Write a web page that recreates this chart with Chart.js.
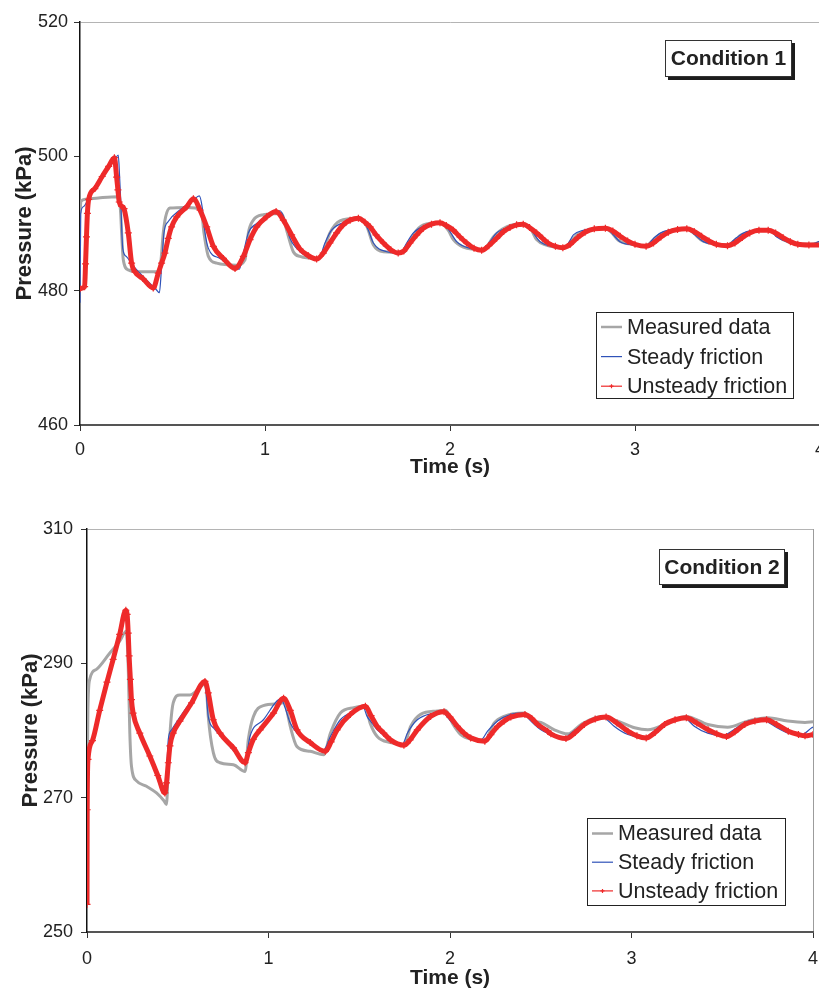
<!DOCTYPE html>
<html>
<head>
<meta charset="utf-8">
<title>Pressure transients</title>
<script src="https://cdn.jsdelivr.net/npm/chart.js@4.4.0/dist/chart.umd.min.js"></script>
<style>
  html, body { margin: 0; padding: 0; background: #fff; overflow: hidden; }
  .panel { position: absolute; left: 0; width: 840px; height: 496px; }
  #panel1 { top: 0; }
  #panel2 { top: 496px; }
</style>
</head>
<body>
<div class="panel" id="panel1"><canvas id="chart1" width="840" height="496"></canvas></div>
<div class="panel" id="panel2"><canvas id="chart2" width="840" height="496"></canvas></div>
<script>
const seriesNames = ["Measured data", "Steady friction", "Unsteady friction"];
const conditionNames = ["Condition 1", "Condition 2"];
const timeTicks = [0, 1, 2, 3, 4];
const c1PressureTicks = [460, 480, 500, 520];
const c2PressureTicks = [250, 270, 290, 310];

// condition 1
const c1MeasuredT = [0, 0.005, 0.03, 0.1, 0.205, 0.215, 0.22, 0.225, 0.234, 0.261, 0.324, 0.414, 0.436, 0.45, 0.463, 0.486, 0.577, 0.655, 0.67, 0.694, 0.739, 0.847, 0.892, 0.91, 0.937, 0.991, 1.09, 1.117, 1.153, 1.189, 1.279, 1.31, 1.351, 1.405, 1.5, 1.55, 1.586, 1.64, 1.748, 1.775, 1.802, 1.856, 1.946, 1.99, 2.018, 2.072, 2.18, 2.205, 2.234, 2.306, 2.396, 2.44, 2.468, 2.52, 2.62, 2.65, 2.69, 2.76, 2.84, 2.875, 2.91, 2.98, 3.06, 3.09, 3.13, 3.2, 3.28, 3.315, 3.355, 3.42, 3.5, 3.535, 3.575, 3.64, 3.72, 3.755, 3.8, 3.87, 3.95, 4.0];
const c1MeasuredP = [491.5, 493.3, 493.6, 493.8, 494.0, 493.0, 491.5, 488.6, 484.6, 483.1, 482.8, 482.8, 484.1, 488.6, 491.0, 492.3, 492.4, 492.1, 488.6, 485.1, 484.1, 483.8, 484.6, 488.6, 490.5, 491.3, 491.5, 489.0, 485.8, 485.1, 484.8, 485.5, 488.6, 490.4, 490.8, 489.6, 486.8, 485.8, 485.7, 486.6, 488.3, 489.8, 490.1, 489.0, 487.6, 486.5, 486.1, 486.8, 488.0, 489.5, 490.0, 489.0, 487.6, 486.8, 486.4, 487.2, 488.4, 489.1, 489.3, 488.6, 487.5, 486.9, 486.7, 487.3, 488.3, 489.0, 489.2, 488.6, 487.6, 487.0, 486.8, 487.4, 488.3, 488.9, 489.1, 488.6, 487.6, 487.0, 486.9, 487.2];

const c1SteadyT = [0, 0.004, 0.018, 0.06, 0.1, 0.15, 0.19, 0.207, 0.214, 0.22, 0.231, 0.25, 0.29, 0.324, 0.37, 0.414, 0.429, 0.441, 0.454, 0.477, 0.54, 0.613, 0.645, 0.66, 0.676, 0.694, 0.757, 0.829, 0.861, 0.883, 0.91, 0.955, 1.009, 1.081, 1.108, 1.135, 1.165, 1.225, 1.288, 1.324, 1.36, 1.441, 1.523, 1.541, 1.559, 1.586, 1.658, 1.73, 1.766, 1.802, 1.874, 1.955, 1.978, 2.0, 2.036, 2.108, 2.18, 2.216, 2.252, 2.324, 2.405, 2.43, 2.45, 2.486, 2.55, 2.62, 2.645, 2.667, 2.72, 2.84, 2.86, 2.883, 2.919, 2.99, 3.06, 3.085, 3.108, 3.153, 3.28, 3.3, 3.324, 3.369, 3.441, 3.5, 3.525, 3.55, 3.604, 3.72, 3.74, 3.766, 3.82, 3.91, 3.95, 3.975, 4.0];
const c1SteadyP = [478.2, 491.5, 492.5, 494.6, 496.3, 498.2, 499.6, 500.2, 497.0, 493.5, 486.3, 485.1, 483.6, 482.6, 481.3, 480.1, 479.7, 483.6, 488.6, 490.3, 492.0, 493.5, 494.1, 492.5, 488.6, 486.3, 484.8, 483.6, 483.2, 485.6, 488.6, 490.0, 491.0, 491.9, 490.5, 487.8, 486.5, 485.1, 484.6, 487.1, 489.0, 490.3, 490.8, 490.0, 489.0, 487.1, 485.8, 485.6, 487.1, 488.6, 489.8, 490.3, 489.6, 488.8, 487.3, 486.3, 486.1, 487.3, 488.6, 489.5, 490.0, 489.3, 488.6, 487.3, 486.6, 486.3, 487.3, 488.3, 489.0, 489.4, 489.0, 488.3, 487.3, 486.8, 486.6, 487.3, 488.0, 488.8, 489.2, 488.9, 488.3, 487.3, 486.9, 486.7, 487.3, 487.9, 488.8, 489.1, 488.7, 488.0, 487.3, 486.9, 486.8, 487.1, 487.4];

const c1UnsteadyT = [0, 0.025, 0.03, 0.035, 0.04, 0.047, 0.08, 0.12, 0.155, 0.186, 0.198, 0.205, 0.212, 0.225, 0.238, 0.261, 0.279, 0.297, 0.34, 0.396, 0.423, 0.441, 0.459, 0.477, 0.495, 0.523, 0.577, 0.613, 0.649, 0.685, 0.721, 0.775, 0.838, 0.883, 0.919, 0.955, 1.009, 1.06, 1.099, 1.144, 1.189, 1.235, 1.279, 1.315, 1.351, 1.387, 1.423, 1.46, 1.505, 1.54, 1.568, 1.6, 1.64, 1.68, 1.72, 1.75, 1.784, 1.82, 1.856, 1.9, 1.946, 1.98, 2.018, 2.054, 2.09, 2.13, 2.171, 2.21, 2.252, 2.29, 2.324, 2.36, 2.396, 2.43, 2.468, 2.5, 2.53, 2.57, 2.61, 2.65, 2.69, 2.73, 2.78, 2.84, 2.88, 2.92, 2.96, 3.0, 3.06, 3.1, 3.14, 3.18, 3.23, 3.28, 3.32, 3.36, 3.4, 3.44, 3.5, 3.54, 3.58, 3.62, 3.67, 3.72, 3.76, 3.8, 3.84, 3.88, 3.94, 4.0];
const c1UnsteadyP = [480.3, 480.6, 484.0, 488.0, 491.5, 493.6, 495.2, 497.0, 498.5, 499.8, 496.9, 495.0, 493.2, 492.6, 492.2, 488.6, 484.1, 482.8, 481.8, 480.4, 482.6, 484.1, 485.6, 487.8, 489.5, 491.0, 492.5, 493.7, 492.0, 489.5, 486.6, 484.8, 483.3, 485.1, 487.6, 489.5, 491.0, 491.8, 490.5, 488.3, 486.2, 485.2, 484.7, 485.6, 487.1, 488.6, 489.8, 490.5, 490.8, 490.2, 489.5, 488.3, 487.1, 486.1, 485.6, 485.9, 487.1, 488.3, 489.3, 489.9, 490.1, 489.7, 489.0, 488.0, 487.1, 486.3, 486.0, 486.7, 487.8, 488.8, 489.4, 489.8, 489.9, 489.4, 488.6, 487.8, 487.1, 486.6, 486.4, 486.9, 487.9, 488.7, 489.2, 489.3, 488.9, 488.1, 487.4, 486.9, 486.6, 487.1, 488.0, 488.7, 489.1, 489.2, 488.8, 488.1, 487.4, 486.9, 486.7, 487.1, 487.9, 488.6, 489.0, 489.0, 488.6, 487.9, 487.3, 486.9, 486.8, 486.8];

// condition 2
const c2MeasuredT = [0, 0.005, 0.015, 0.052, 0.125, 0.18, 0.217, 0.222, 0.227, 0.236, 0.245, 0.273, 0.328, 0.383, 0.425, 0.438, 0.448, 0.46, 0.475, 0.512, 0.567, 0.63, 0.65, 0.66, 0.668, 0.696, 0.733, 0.807, 0.871, 0.889, 0.917, 0.972, 1.064, 1.09, 1.105, 1.12, 1.157, 1.23, 1.304, 1.341, 1.396, 1.47, 1.534, 1.56, 1.599, 1.672, 1.746, 1.783, 1.838, 1.93, 1.976, 2.013, 2.059, 2.133, 2.188, 2.243, 2.298, 2.409, 2.464, 2.501, 2.575, 2.649, 2.722, 2.833, 2.925, 3.017, 3.09, 3.201, 3.3, 3.42, 3.53, 3.64, 3.75, 3.86, 3.956, 4.0];
const c2MeasuredP = [269.0, 283.0, 287.6, 289.1, 291.5, 293.3, 294.8, 293.0, 289.6, 279.6, 274.7, 272.5, 271.7, 270.7, 269.5, 269.0, 274.7, 280.6, 284.1, 285.3, 285.3, 286.6, 287.0, 285.5, 282.1, 276.7, 275.2, 274.9, 273.9, 278.7, 282.1, 283.7, 284.0, 284.2, 282.5, 280.6, 277.6, 276.9, 276.4, 279.6, 282.6, 283.4, 283.6, 281.1, 279.1, 278.2, 277.9, 280.6, 282.4, 282.9, 283.0, 281.1, 279.4, 278.6, 278.4, 281.1, 282.1, 282.6, 281.4, 281.2, 280.1, 279.5, 280.9, 282.1, 281.4, 280.4, 280.1, 281.1, 282.1, 280.9, 280.5, 281.4, 281.9, 281.4, 281.2, 281.3];

const c2SteadyT = [0, 0.003, 0.03, 0.07, 0.144, 0.214, 0.218, 0.227, 0.235, 0.245, 0.254, 0.291, 0.346, 0.429, 0.438, 0.448, 0.466, 0.512, 0.576, 0.645, 0.655, 0.668, 0.7, 0.733, 0.807, 0.871, 0.885, 0.898, 0.972, 1.07, 1.09, 1.12, 1.157, 1.23, 1.304, 1.341, 1.396, 1.488, 1.52, 1.543, 1.562, 1.599, 1.672, 1.737, 1.765, 1.82, 1.912, 1.96, 1.985, 2.004, 2.059, 2.133, 2.17, 2.207, 2.262, 2.335, 2.4, 2.425, 2.446, 2.501, 2.538, 2.63, 2.667, 2.759, 2.842, 2.87, 2.906, 2.98, 3.072, 3.109, 3.201, 3.293, 3.32, 3.348, 3.42, 3.505, 3.551, 3.643, 3.726, 3.755, 3.79, 3.864, 3.938, 3.993, 4.0];
const c2SteadyP = [254.0, 275.5, 278.5, 283.0, 290.6, 297.8, 296.0, 291.0, 285.5, 283.5, 282.5, 279.6, 276.2, 270.9, 273.5, 278.7, 280.1, 282.0, 284.5, 287.2, 286.0, 282.1, 280.3, 279.3, 277.0, 275.3, 277.2, 279.1, 281.6, 284.7, 283.5, 281.1, 279.6, 278.2, 277.1, 279.1, 281.6, 283.1, 283.6, 282.1, 281.4, 280.1, 278.6, 277.9, 279.6, 281.6, 282.6, 282.8, 282.0, 281.4, 280.1, 278.9, 278.6, 279.9, 281.4, 282.4, 282.6, 282.0, 281.4, 280.1, 279.6, 278.9, 279.6, 281.4, 282.1, 281.5, 280.6, 279.4, 278.9, 279.6, 281.4, 281.9, 281.3, 280.6, 279.6, 279.2, 279.9, 281.4, 281.7, 281.2, 280.6, 279.6, 279.4, 280.4, 280.5];

const c2UnsteadyT = [0, 0.001, 0.0055, 0.03, 0.07, 0.11, 0.144, 0.18, 0.214, 0.221, 0.227, 0.232, 0.239, 0.245, 0.254, 0.291, 0.346, 0.39, 0.429, 0.438, 0.448, 0.457, 0.475, 0.512, 0.576, 0.65, 0.668, 0.696, 0.733, 0.807, 0.871, 0.889, 0.917, 0.954, 1.028, 1.083, 1.12, 1.157, 1.23, 1.313, 1.345, 1.378, 1.451, 1.534, 1.565, 1.599, 1.635, 1.672, 1.746, 1.78, 1.82, 1.893, 1.967, 2.0, 2.041, 2.077, 2.114, 2.192, 2.225, 2.262, 2.298, 2.335, 2.413, 2.45, 2.483, 2.538, 2.556, 2.639, 2.69, 2.74, 2.8, 2.86, 2.92, 2.98, 3.03, 3.081, 3.13, 3.182, 3.24, 3.302, 3.36, 3.422, 3.47, 3.523, 3.57, 3.624, 3.68, 3.744, 3.8, 3.864, 3.92, 3.956, 4.0];
const c2UnsteadyP = [254.1, 268.2, 275.7, 278.5, 283.0, 287.2, 290.6, 294.3, 297.9, 297.3, 294.5, 291.1, 287.6, 284.6, 282.6, 279.6, 276.2, 273.3, 270.7, 272.2, 275.2, 277.7, 279.6, 281.4, 284.1, 287.3, 285.6, 281.6, 279.6, 277.4, 275.2, 276.7, 278.7, 280.1, 282.6, 284.8, 283.0, 280.1, 278.2, 276.9, 278.3, 280.1, 282.4, 283.6, 282.2, 280.6, 279.6, 278.6, 277.8, 278.6, 280.1, 282.1, 282.8, 282.0, 280.6, 279.6, 278.9, 278.4, 279.4, 280.6, 281.4, 282.0, 282.4, 281.8, 280.9, 279.9, 279.5, 278.8, 279.7, 280.9, 281.7, 282.0, 281.1, 279.9, 279.2, 278.9, 279.7, 280.9, 281.6, 281.9, 281.1, 280.1, 279.5, 279.1, 279.8, 280.9, 281.4, 281.6, 280.9, 279.9, 279.4, 279.2, 279.4];

const FONT = '"Liberation Sans", Arial, sans-serif';
Chart.defaults.font.family = FONT;
Chart.defaults.color = '#222';

function toPoints(ts, ps) {
  return ts.map((t, i) => ({ x: t, y: ps[i] }));
}

function makeDatasets(mT, mP, sT, sP, uT, uP) {
  return [
    {
      label: seriesNames[0],
      data: toPoints(mT, mP),
      borderColor: '#a6a6a6',
      borderWidth: 3,
      pointRadius: 0,
      cubicInterpolationMode: 'monotone',
      order: 3,
      legendWidth: 2.5
    },
    {
      label: seriesNames[1],
      data: toPoints(sT, sP),
      borderColor: '#2f52b8',
      borderWidth: 1.2,
      pointRadius: 0,
      cubicInterpolationMode: 'monotone',
      order: 2,
      legendWidth: 1.2
    },
    {
      label: seriesNames[2],
      data: toPoints(uT, uP),
      borderColor: '#ee2a2a',
      borderWidth: 5,
      pointStyle: 'cross',
      pointRadius: 3.5,
      pointBorderWidth: 1.2,
      pointBorderColor: '#ee2a2a',
      cubicInterpolationMode: 'monotone',
      order: 1,
      legendWidth: 1.2,
      legendMarker: true
    }
  ];
}

// legend drawn inside the plot, lines + labels taken from the datasets
const boxLegend = {
  id: 'boxLegend',
  afterDraw(chart, args, o) {
    const ctx = chart.ctx;
    ctx.save();
    ctx.fillStyle = '#fff';
    ctx.fillRect(o.x, o.y, o.w, o.h);
    ctx.strokeStyle = '#222';
    ctx.lineWidth = 1;
    ctx.strokeRect(o.x + 0.5, o.y + 0.5, o.w, o.h);
    ctx.font = '21.5px ' + FONT;
    ctx.textBaseline = 'middle';
    ctx.textAlign = 'left';
    chart.data.datasets.forEach((ds, i) => {
      const y = o.firstRow + i * o.rowStep;
      ctx.strokeStyle = ds.borderColor;
      ctx.lineWidth = ds.legendWidth;
      ctx.beginPath();
      ctx.moveTo(o.lineX, y);
      ctx.lineTo(o.lineX + 21, y);
      ctx.stroke();
      if (ds.legendMarker) {
        const cx = o.lineX + 10.5;
        ctx.beginPath();
        ctx.moveTo(cx - 2, y);
        ctx.lineTo(cx + 2, y);
        ctx.moveTo(cx, y - 2);
        ctx.lineTo(cx, y + 2);
        ctx.stroke();
      }
      ctx.fillStyle = '#222';
      ctx.fillText(ds.label, o.lineX + 26, y + 1);
    });
    ctx.restore();
  }
};

// boxed caption with drop shadow in the upper right corner
const conditionTag = {
  id: 'conditionTag',
  afterDraw(chart, args, o) {
    const ctx = chart.ctx;
    ctx.save();
    ctx.fillStyle = '#1c1c1c';
    ctx.fillRect(o.x + 3, o.y + 3, o.w, o.h);
    ctx.fillStyle = '#fff';
    ctx.fillRect(o.x, o.y, o.w, o.h);
    ctx.strokeStyle = '#333';
    ctx.lineWidth = 1;
    ctx.strokeRect(o.x + 0.5, o.y + 0.5, o.w - 1, o.h - 1);
    ctx.font = 'bold 21px ' + FONT;
    ctx.fillStyle = '#222';
    ctx.textAlign = 'center';
    ctx.textBaseline = 'middle';
    ctx.fillText(o.text, o.x + o.w / 2, o.y + o.h / 2 + 1);
    ctx.restore();
  }
};

function buildChart(id, s) {
  return new Chart(document.getElementById(id).getContext('2d'), {
    type: 'line',
    data: { datasets: s.datasets },
    plugins: [boxLegend, conditionTag],
    options: {
      responsive: false,
      animation: false,
      events: [],
      layout: { padding: s.padding },
      scales: {
        x: {
          type: 'linear',
          min: timeTicks[0],
          max: timeTicks[timeTicks.length - 1],
          afterBuildTicks: a => { a.ticks = timeTicks.map(v => ({ value: v })); },
          afterFit: a => { a.height = s.xHeight; },
          ticks: { font: { size: 18 }, color: '#222', padding: s.xTickPad, maxRotation: 0 },
          grid: {
            color: c => (c.tick && c.tick.value === timeTicks[timeTicks.length - 1]) ? '#9c9c9c' : 'rgba(0,0,0,0)',
            tickColor: '#333',
            tickLength: 6,
            lineWidth: 1
          },
          border: { color: '#555', width: 2 },
          title: {
            display: true,
            text: 'Time (s)',
            font: { size: 21, weight: 'bold' },
            color: '#222',
            padding: { top: 0, bottom: s.xTitlePad }
          }
        },
        y: {
          type: 'linear',
          min: s.yTicks[0],
          max: s.yTicks[s.yTicks.length - 1],
          afterBuildTicks: a => { a.ticks = s.yTicks.map(v => ({ value: v })); },
          afterFit: a => { a.width = s.yWidth; },
          ticks: { font: { size: 18 }, color: '#222', padding: s.yTickPad },
          grid: {
            color: c => (c.tick && c.tick.value === s.yTicks[s.yTicks.length - 1]) ? '#b4b4b4' : 'rgba(0,0,0,0)',
            tickColor: '#333',
            tickLength: 6,
            lineWidth: 1
          },
          border: { color: '#111', width: 1.5 },
          title: {
            display: true,
            text: 'Pressure (kPa)',
            font: { size: 22, weight: 'bold' },
            color: '#222',
            padding: { top: s.yTitlePad, bottom: 0 }
          }
        }
      },
      plugins: {
        legend: { display: false },
        tooltip: { enabled: false },
        boxLegend: s.legendBox,
        conditionTag: s.tag
      }
    }
  });
}

buildChart('chart1', {
  datasets: makeDatasets(c1MeasuredT, c1MeasuredP, c1SteadyT, c1SteadyP, c1UnsteadyT, c1UnsteadyP),
  yTicks: c1PressureTicks,
  padding: { left: 0, top: 22, right: 20, bottom: 11 },
  xHeight: 60, xTickPad: 8, xTitlePad: 5,
  yWidth: 80, yTickPad: 6, yTitlePad: 11.5,
  legendBox: { x: 596, y: 312, w: 197, h: 86, firstRow: 327, rowStep: 29.6, lineX: 601 },
  tag: { x: 665, y: 40, w: 127, h: 37, text: conditionNames[0] }
});

buildChart('chart2', {
  datasets: makeDatasets(c2MeasuredT, c2MeasuredP, c2SteadyT, c2SteadyP, c2UnsteadyT, c2UnsteadyP),
  yTicks: c2PressureTicks,
  padding: { left: 0, top: 33, right: 27, bottom: 0 },
  xHeight: 60, xTickPad: 10, xTitlePad: 1,
  yWidth: 87, yTickPad: 8, yTitlePad: 17.5,
  legendBox: { x: 587, y: 322, w: 198, h: 87, firstRow: 337.5, rowStep: 28.7, lineX: 592 },
  tag: { x: 659, y: 53, w: 126, h: 36, text: conditionNames[1] }
});
</script>
</body>
</html>
